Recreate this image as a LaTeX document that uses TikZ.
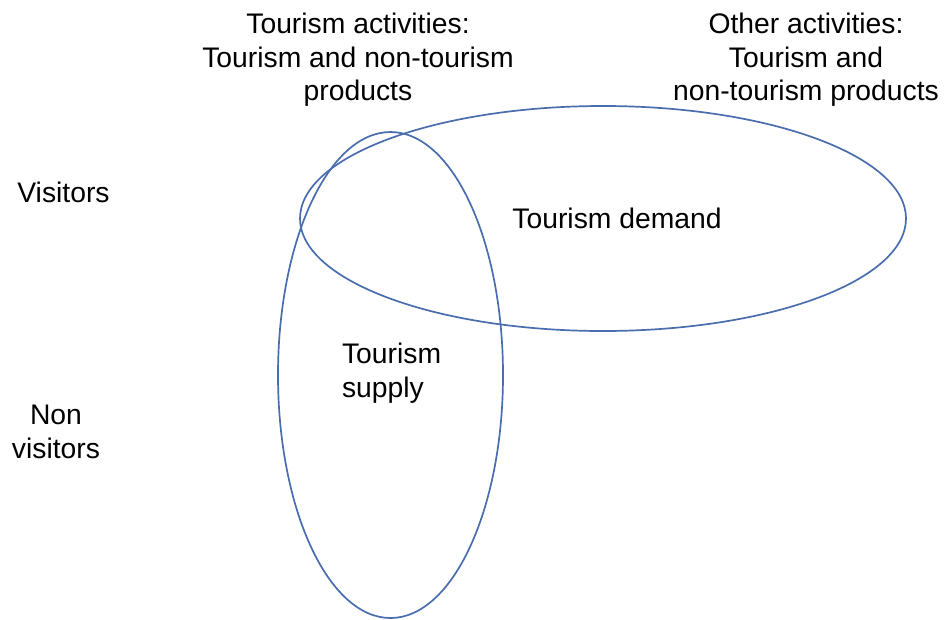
\documentclass[tikz,border=0pt]{standalone}
\usepackage{fontspec}
\setmainfont{Liberation Sans}
\definecolor{venn}{HTML}{4A6DAE}
\begin{document}
\begin{tikzpicture}[x=1pt,y=-1pt,
  lbl/.style={inner sep=0pt,outer sep=0pt,align=center,font=\fontsize{28.3}{33.5}\selectfont},
  setline/.style={draw=venn,line width=1.7pt}]
\useasboundingbox (0,0) rectangle (944,619);
% the two sets
\draw[setline] (603,218.5) ellipse [x radius=303, y radius=112.5];
\draw[setline] (390.5,375) ellipse [x radius=112.5, y radius=243];
% column headings (anchored on the baseline of the last line)
\node[lbl,anchor=base] (tour) at (358,100.5) {Tourism activities:\\Tourism and non-tourism\\products};
\node[lbl,anchor=base] (other) at (806,100.5) {Other activities:\\Tourism and\\non-tourism products};
% row headings
\node[lbl,anchor=base] (vis) at (63.5,202) {Visitors};
\node[lbl,anchor=base] (nonvis) at (56,458) {Non\\visitors};
% set labels
\node[lbl,anchor=base] (demand) at (617,228) {Tourism demand};
\node[lbl,anchor=base west,align=left] (supply) at (342,397) {Tourism\\supply};
\end{tikzpicture}
\end{document}
